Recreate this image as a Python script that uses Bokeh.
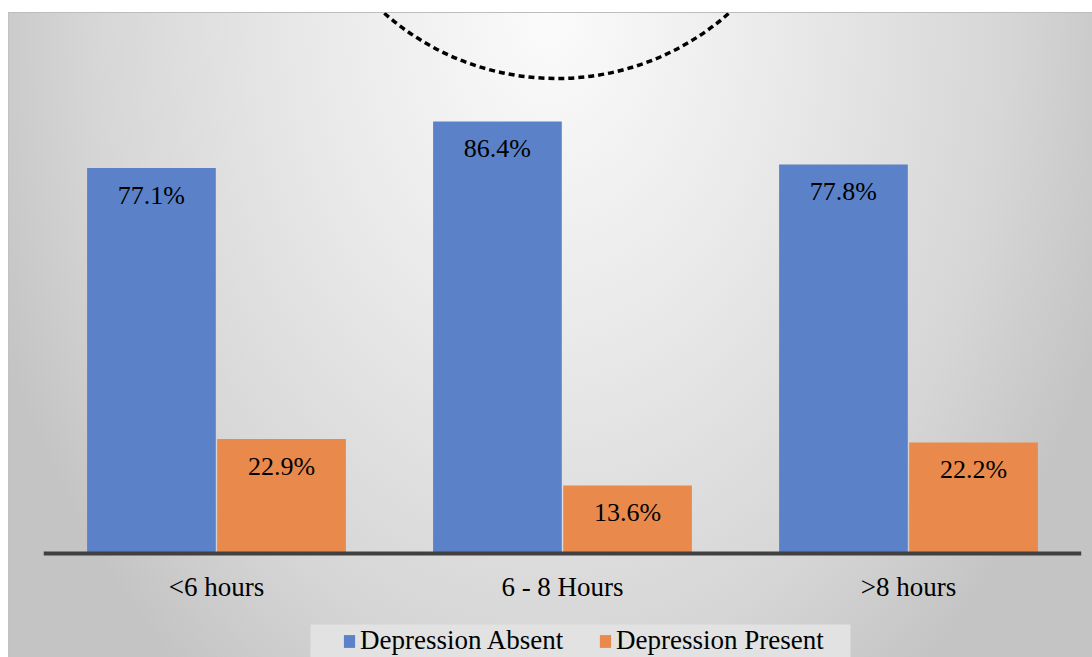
import math

from bokeh.core.properties import value
from bokeh.embed import file_html
from bokeh.models import (BoxAnnotation, ColumnDataSource, FactorRange, LabelSet,
                          Legend, LegendItem, Range1d)
from bokeh.plotting import figure
from bokeh.resources import INLINE
from bokeh.transform import dodge

# --- data -------------------------------------------------------------
categories = ["<6 hours", "6 - 8 Hours", ">8 hours"]
depression_absent = [77.1, 86.4, 77.8]
depression_present = [22.9, 13.6, 22.2]
series_names = ["Depression Absent", "Depression Present"]

# --- style ------------------------------------------------------------
BLUE = "#5b82c9"
ORANGE = "#e9894b"
FONT = "Liberation Serif"
BAR_W = 0.372
OFFSET = 0.188

source = ColumnDataSource(dict(
    cat=categories,
    absent=depression_absent,
    present=depression_present,
    absent_txt=[f"{v:.1f}%" for v in depression_absent],
    present_txt=[f"{v:.1f}%" for v in depression_present],
))

# the frame runs to the bottom edge; the category axis sits at y = 0
p = figure(
    x_range=FactorRange(*categories, range_padding=0),
    y_range=Range1d(-20.8, 108.2),
    width=1084, height=645,
    output_backend="svg", toolbar_location=None,
    y_axis_location=None,
    min_border_left=35, min_border_right=11,
    min_border_top=0, min_border_bottom=0,
    border_fill_alpha=0, background_fill_alpha=0,
    outline_line_color=None,
    margin=(12, 0, 0, 8),
    styles={
        "background": "radial-gradient(ellipse 55% 130% at 50% 0%, #fbfbfb 0%, "
                      "#e9e9e9 40%, #d6d6d6 77%, #cbcbcb 91%, #c4c4c4 100%)",
        "box-shadow": "inset 0 1px 0 #bdbdbd, inset 1px 0 0 #c2c2c2",
    },
)

p.xgrid.visible = False
p.ygrid.visible = False

ax = p.xaxis[0]
ax.fixed_location = 0
ax.axis_line_width = 4
ax.axis_line_color = "#404040"
ax.major_tick_line_color = None
ax.minor_tick_line_color = None
ax.major_tick_out = 0
ax.major_label_text_font = FONT
ax.major_label_text_font_size = "27px"
ax.major_label_text_color = "black"
ax.major_label_standoff = 18

# decorative dashed arc hanging from the top edge
p.arc(x=[1.483], y=[147], radius=260, radius_units="screen",
      start_angle=math.pi, end_angle=2 * math.pi,
      line_color="black", line_width=3.5, line_dash="6 4")

r_abs = p.vbar(x=dodge("cat", -OFFSET, range=p.x_range), top="absent", width=BAR_W,
               source=source, fill_color=BLUE, line_color=None)
r_pre = p.vbar(x=dodge("cat", OFFSET, range=p.x_range), top="present", width=BAR_W,
               source=source, fill_color=ORANGE, line_color=None)

for col, off in (("absent", -OFFSET), ("present", OFFSET)):
    p.add_layout(LabelSet(
        x=dodge("cat", off, range=p.x_range), y=col, text=f"{col}_txt", source=source,
        text_align="center", text_baseline="middle", y_offset=-27,
        text_font=value(FONT), text_font_size="26px", text_color="black",
    ))

# light panel behind the legend
p.add_layout(BoxAnnotation(
    left=302, right=842, top=612, bottom=660,
    left_units="canvas", right_units="canvas", top_units="canvas", bottom_units="canvas",
    fill_color="#e2e2e2", fill_alpha=1, line_color=None,
))

legend = Legend(
    items=[LegendItem(label=series_names[0], renderers=[r_abs]),
           LegendItem(label=series_names[1], renderers=[r_pre])],
    orientation="horizontal", location=(299, 1),
    label_text_font=FONT, label_text_font_size="27px", label_text_color="black",
    glyph_width=14, glyph_height=16, label_standoff=4, spacing=8,
    label_width=230, padding=4, margin=0,
    background_fill_alpha=0, border_line_color=None,
)
p.add_layout(legend)

open("out.html", "w").write(file_html(p, INLINE))
